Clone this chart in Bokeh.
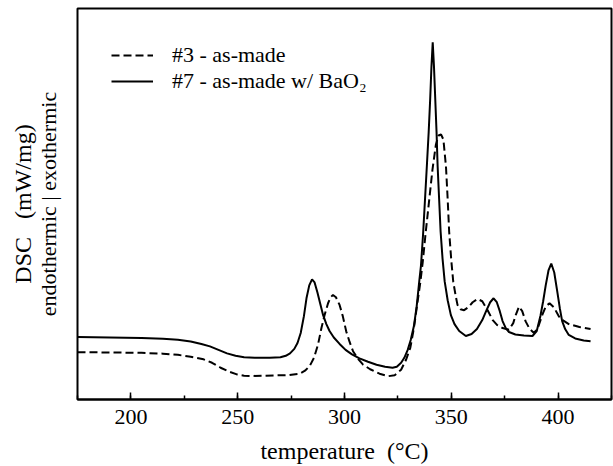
from bokeh.plotting import figure
from bokeh.models import Range1d, SingleIntervalTicker, FixedTicker, LinearAxis, Legend, LegendItem
from bokeh.embed import file_html
from bokeh.resources import INLINE

# ---- data (y in arbitrary DSC units) ----
t_solid = [175, 190, 205, 215, 222, 228, 233, 237, 241, 245, 249, 253, 258, 265, 270,
           272.5, 274.5, 276.5, 278, 279.5, 281, 282.2, 283.5, 284.8, 286, 287.3, 288.7,
           290, 291.5, 293, 295, 297.7, 300.5, 303.5, 307, 311, 315, 319, 322.5, 324.5,
           326.5, 328, 329.6, 331, 332.5, 333.8, 335, 335.8, 336.8, 337.7, 338.6, 339.4,
           340.1, 340.7, 341.3, 341.9, 342.5, 343.1, 343.6, 344.3, 345, 345.9, 346.9,
           348.3, 349.8, 351.5, 353.7, 356.8, 359.5, 362, 364.5, 366.5, 368.2, 369.8,
           371.3, 372.7, 374, 375.5, 377, 380, 384, 388, 390, 391.8, 393, 394.2, 395.5,
           396.8, 398.2, 399.6, 400.8, 401.9, 403.3, 405, 408, 412, 415.2]
dsc_solid = [0.63, 0.625, 0.62, 0.612, 0.602, 0.585, 0.56, 0.535, 0.50, 0.465, 0.44, 0.425,
             0.42, 0.42, 0.425, 0.44, 0.465, 0.51, 0.57, 0.67, 0.84, 1.02, 1.15, 1.21, 1.18,
             1.08, 0.96, 0.85, 0.76, 0.69, 0.625, 0.56, 0.50, 0.455, 0.415, 0.38, 0.35, 0.33,
             0.32, 0.33, 0.37, 0.42, 0.50, 0.60, 0.74, 0.94, 1.19, 1.35, 1.67, 2.02, 2.37,
             2.69, 3.02, 3.35, 3.60, 3.35, 3.02, 2.69, 2.35, 2.02, 1.69, 1.42, 1.19, 1.00,
             0.85, 0.76, 0.69, 0.64, 0.66, 0.71, 0.80, 0.90, 0.98, 1.02, 0.98, 0.89, 0.79,
             0.72, 0.68, 0.655, 0.645, 0.64, 0.69, 0.85, 0.99, 1.15, 1.30, 1.37, 1.28, 1.09,
             0.92, 0.79, 0.71, 0.65, 0.615, 0.595, 0.587]

t_dashed = [175, 190, 205, 215, 222, 228, 234, 238, 242, 246, 249.6, 253, 256, 262, 268,
            274, 277, 279, 281.5, 283.7, 285.7, 287.6, 289.2, 290.7, 292.3, 293.5, 294.6,
            296, 297.7, 299.2, 300.8, 302.4, 304, 306.3, 308.6, 312, 316.4, 320.5, 323.5,
            326.5, 328.8, 330.8, 332.5, 334.3, 335.5, 336.6, 337.9, 339.7, 341.2, 342.8,
            344, 345.2, 346.3, 347.5, 348.3, 349, 350, 350.9, 352, 352.9, 354.3, 356, 358,
            360, 362.3, 364.5, 367, 369.3, 371.5, 374, 377, 379, 380.2, 381.7, 383.2, 384.8,
            386.7, 388.7, 390.5, 392.6, 394.3, 396, 398, 400.4, 402.5, 405, 410, 415.2]
dsc_dashed = [0.477, 0.474, 0.47, 0.462, 0.45, 0.43, 0.405, 0.37, 0.32, 0.28, 0.253, 0.24,
              0.237, 0.24, 0.243, 0.245, 0.255, 0.26, 0.29, 0.337, 0.42, 0.553, 0.72, 0.853,
              0.97, 1.03, 1.053, 1.03, 0.953, 0.84, 0.687, 0.58, 0.487, 0.41, 0.353, 0.305,
              0.26, 0.235, 0.245, 0.30, 0.40, 0.52, 0.72, 1.0, 1.18, 1.38, 1.66, 2.02, 2.32,
              2.57, 2.66, 2.67, 2.62, 2.35, 2.02, 1.69, 1.40, 1.19, 1.05, 0.953, 0.91, 0.90,
              0.93, 0.98, 1.013, 0.99, 0.90, 0.803, 0.75, 0.72, 0.703, 0.77, 0.853, 0.937,
              0.89, 0.787, 0.71, 0.67, 0.72, 0.853, 0.94, 0.97, 0.93, 0.837, 0.795, 0.76,
              0.73, 0.71]

label_dashed = "#3 - as-made"
label_solid = "#7 - as-made w/ BaO\u2082"
x_title = "temperature\u00a0\u00a0(\u00b0C)"
y_title_1 = "DSC\u00a0\u00a0\u00a0(mW/mg)"
y_title_2 = "endothermic\u00a0|\u00a0exothermic"
x_ticks_interval = 50

FONT = "Liberation Serif"

p = figure(width=613, height=466, output_backend="svg", toolbar_location=None,
           x_range=Range1d(175, 425), y_range=Range1d(0, 3.94),
           min_border_left=77, min_border_right=2, min_border_top=8, min_border_bottom=64)
p.background_fill_color = "white"
p.border_fill_color = "white"
p.grid.visible = False
p.outline_line_color = "black"
p.outline_line_width = 2

xa = p.xaxis[0]
xa.ticker = SingleIntervalTicker(interval=x_ticks_interval, num_minor_ticks=2)
xa.axis_line_width = 2
xa.axis_line_color = "black"
xa.major_tick_in = 7
xa.major_tick_out = 0
xa.minor_tick_in = 4
xa.minor_tick_out = 0
xa.major_tick_line_width = 1.5
xa.minor_tick_line_width = 1.5
xa.major_tick_line_color = "black"
xa.minor_tick_line_color = "black"
xa.major_label_text_font = FONT
xa.major_label_text_font_size = "22px"
xa.major_label_text_color = "black"
xa.major_label_standoff = 10
xa.axis_label = x_title
xa.axis_label_text_font = FONT
xa.axis_label_text_font_size = "24px"
xa.axis_label_text_font_style = "normal"
xa.axis_label_text_color = "black"
xa.axis_label_standoff = 11


def style_label_axis(ax, text, standoff, size):
    ax.ticker = FixedTicker(ticks=[])
    ax.axis_line_color = None
    ax.major_tick_line_color = None
    ax.minor_tick_line_color = None
    ax.major_tick_in = 0
    ax.major_tick_out = 0
    ax.minor_tick_in = 0
    ax.minor_tick_out = 0
    ax.major_label_standoff = 0
    ax.axis_label = text
    ax.axis_label_standoff = standoff
    ax.axis_label_text_font = FONT
    ax.axis_label_text_font_size = size
    ax.axis_label_text_font_style = "normal"
    ax.axis_label_text_color = "black"


style_label_axis(p.yaxis[0], y_title_2, 17, "22px")
outer = LinearAxis()
style_label_axis(outer, y_title_1, -3, "24px")
p.add_layout(outer, "left")

r_d = p.line(t_dashed, dsc_dashed, line_color="black", line_width=2, line_dash="8 4")
r_s = p.line(t_solid, dsc_solid, line_color="black", line_width=2)

legend = Legend(items=[LegendItem(label=label_dashed, renderers=[r_d]),
                       LegendItem(label=label_solid, renderers=[r_s])],
                location="top_left")
legend.background_fill_alpha = 0
legend.border_line_alpha = 0
legend.margin = 20
legend.padding = 14
legend.glyph_width = 42
legend.glyph_height = 20
legend.spacing = -2
legend.label_standoff = 19
legend.label_text_font = FONT
legend.label_text_font_size = "22px"
legend.label_text_color = "black"
p.add_layout(legend)

open("out.html", "w").write(file_html(p, INLINE))
